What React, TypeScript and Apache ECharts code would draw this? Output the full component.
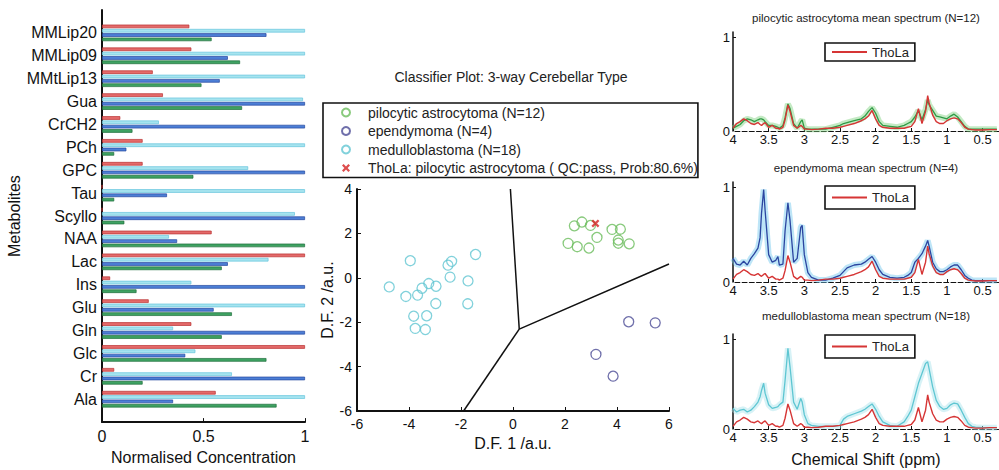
import React, { useEffect, useRef } from 'react';
import * as echarts from 'echarts';

const FONT = '"Liberation Sans", Arial, Helvetica, sans-serif';

// ---------- Bar chart (left) ----------
const metabolites = ['MMLip20', 'MMLip09', 'MMtLip13', 'Gua', 'CrCH2', 'PCh', 'GPC', 'Tau', 'Scyllo', 'NAA', 'Lac', 'Ins', 'Glu', 'Gln', 'Glc', 'Cr', 'Ala'];
const tholaConc = [0.43, 0.44, 0.25, 0.30, 0.09, 0.20, 0.20, 0, 0, 0.54, 1, 0.04, 0.23, 0.44, 1, 0.06, 0.56];
const medulloConc = [1, 1, 1, 0.99, 0.28, 1, 0.72, 1, 0.95, 0.33, 0.82, 0.44, 1, 0.35, 0.46, 0.64, 1];
const ependymomaConc = [0.81, 0.62, 0.58, 1, 1, 0.12, 1, 0.32, 1, 0.37, 0.62, 1, 0.55, 1, 0.41, 1, 0.35];
const pilocyticConc = [0.54, 0.68, 0.49, 0.69, 0.15, 0.06, 0.45, 0.06, 0.11, 1, 0.59, 0.17, 0.64, 0.59, 0.81, 0.20, 0.86];
const concTicks = [0, 0.5, 1];

// ---------- Classifier scatter (middle) ----------
const pilocyticPts = [
  [2.12, 1.55], [2.36, 2.34], [2.65, 2.51], [2.47, 1.40], [2.92, 1.34], [2.98, 2.36],
  [3.23, 1.82], [3.81, 2.18], [4.13, 2.19], [4.05, 1.70], [4.05, 1.56], [4.47, 1.53],
];
const ependymomaPts = [[4.45, -1.98], [5.47, -2.03], [3.19, -3.45], [3.85, -4.43]];
const medulloPts = [
  [-4.76, -0.41], [-3.95, 0.77], [-4.12, -0.84], [-3.67, -0.78], [-3.5, -0.47], [-3.24, -0.26],
  [-2.96, -0.38], [-2.97, -1.16], [-3.82, -1.73], [-3.32, -1.71], [-3.76, -2.28], [-3.37, -2.33],
  [-2.5, 0.57], [-2.36, 0.74], [-2.42, 0.03], [-1.73, -0.14], [-1.74, -1.17], [-1.44, 1.05],
];
const tholaPt = [[3.17, 2.45]];
const boundaryA = [[-0.1, 4], [0.24, -2.31], [6, 0.62]];
const boundaryB = [[0.24, -2.31], [-1.9, -6]];

// ---------- Spectra (right) ----------
const ppm = [4.0, 3.95, 3.9, 3.85, 3.8, 3.75, 3.7, 3.65, 3.62, 3.6, 3.57, 3.55, 3.5, 3.45, 3.4, 3.37, 3.35, 3.3, 3.27, 3.23, 3.2, 3.15, 3.1, 3.05, 3.03, 3.0, 2.95, 2.9, 2.8, 2.7, 2.6, 2.5, 2.45, 2.4, 2.3, 2.2, 2.15, 2.1, 2.05, 2.0, 1.95, 1.9, 1.8, 1.7, 1.6, 1.55, 1.5, 1.45, 1.4, 1.35, 1.3, 1.27, 1.25, 1.2, 1.15, 1.1, 1.05, 1.0, 0.95, 0.9, 0.85, 0.8, 0.75, 0.7, 0.65, 0.6, 0.5, 0.4, 0.3];
const tholaSpec = [0.03, 0.08, 0.10, 0.13, 0.11, 0.08, 0.07, 0.09, 0.07, 0.06, 0.08, 0.09, 0.04, 0.06, 0.03, 0.03, 0.02, 0.04, 0.12, 0.28, 0.21, 0.06, 0.03, 0.06, 0.05, 0.02, 0.02, 0.015, 0.02, 0.03, 0.03, 0.04, 0.05, 0.06, 0.08, 0.11, 0.13, 0.16, 0.22, 0.13, 0.06, 0.04, 0.03, 0.03, 0.03, 0.04, 0.05, 0.10, 0.24, 0.08, 0.21, 0.38, 0.30, 0.17, 0.10, 0.08, 0.08, 0.11, 0.13, 0.14, 0.13, 0.09, 0.04, 0.02, 0.015, 0.01, 0.01, 0.015, 0.015];
const pilocyticSpec = [0.03, 0.05, 0.07, 0.11, 0.13, 0.12, 0.10, 0.12, 0.13, 0.13, 0.12, 0.10, 0.06, 0.06, 0.05, 0.04, 0.03, 0.06, 0.14, 0.29, 0.24, 0.08, 0.03, 0.10, 0.12, 0.03, 0.02, 0.02, 0.02, 0.02, 0.04, 0.06, 0.08, 0.09, 0.11, 0.13, 0.16, 0.21, 0.25, 0.19, 0.10, 0.06, 0.05, 0.04, 0.06, 0.08, 0.10, 0.15, 0.22, 0.12, 0.23, 0.33, 0.28, 0.22, 0.16, 0.15, 0.14, 0.13, 0.16, 0.18, 0.15, 0.10, 0.05, 0.02, 0.02, 0.02, 0.02, 0.02, 0.02];
const ependymomaSpec = [0.25, 0.19, 0.18, 0.22, 0.18, 0.25, 0.30, 0.36, 0.47, 0.73, 0.98, 0.76, 0.29, 0.21, 0.23, 0.27, 0.18, 0.19, 0.54, 0.84, 0.65, 0.21, 0.25, 0.58, 0.60, 0.29, 0.10, 0.05, 0.02, 0.02, 0.04, 0.07, 0.11, 0.15, 0.18, 0.19, 0.21, 0.24, 0.27, 0.21, 0.13, 0.08, 0.05, 0.04, 0.05, 0.07, 0.10, 0.21, 0.25, 0.30, 0.38, 0.44, 0.38, 0.21, 0.14, 0.11, 0.11, 0.13, 0.16, 0.18, 0.18, 0.13, 0.07, 0.04, 0.02, 0.015, 0.015, 0.015, 0.015];
const medulloSpec = [0.23, 0.19, 0.21, 0.22, 0.19, 0.21, 0.25, 0.30, 0.36, 0.43, 0.51, 0.40, 0.27, 0.23, 0.24, 0.25, 0.27, 0.30, 0.54, 0.90, 0.69, 0.30, 0.22, 0.34, 0.30, 0.16, 0.06, 0.04, 0.03, 0.03, 0.03, 0.04, 0.11, 0.14, 0.17, 0.20, 0.22, 0.25, 0.28, 0.22, 0.14, 0.08, 0.04, 0.03, 0.08, 0.14, 0.21, 0.36, 0.51, 0.62, 0.73, 0.75, 0.67, 0.47, 0.32, 0.25, 0.22, 0.23, 0.27, 0.29, 0.28, 0.21, 0.13, 0.06, 0.03, 0.02, 0.015, 0.015, 0.015];
const ppmTicks = [4, 3.5, 3, 2.5, 2, 1.5, 1, 0.5];
const intensityTicks = [0, 1];

const RED = '#d63535';
const GREEN = '#2f9a45';
const BLUE = '#2b45a0';
const CYAN = '#5ec6d2';

const pad = (arr: any[]) => [null, ...arr, null];
const zip = (ys: number[]) => ppm.map((p, i) => [p, ys[i]]);

function barSeries(name: string, data: number[], fill: string, edge: string) {
  return {
    type: 'bar', name, xAxisIndex: 0, yAxisIndex: 0,
    data: pad(data), barWidth: 3.6, barGap: '20%',
    itemStyle: { color: fill, borderColor: edge, borderWidth: 0.7 },
  };
}

function spectrumPanel(idx: number, title: string, titleTop: number, top: number, height: number, legendTop: number, legendH: number,
  meanName: string, meanColor: string, bandColor: string, meanData: number[], showName: boolean) {
  const grid = { left: 733, right: 0, top, height };
  const xAxis: any = {
    type: 'value', gridIndex: idx, min: 0.27, max: 4, inverse: true,
    axisLine: { show: true, onZero: false, lineStyle: { color: '#111', width: 1.2, type: 'dashed' } },
    axisTick: { show: true, inside: true, length: 3, customValues: ppmTicks, lineStyle: { color: '#111' } },
    splitLine: { show: false },
    axisLabel: { customValues: ppmTicks, margin: 2, fontSize: 13, color: '#111', fontFamily: FONT },
  };
  if (showName) {
    Object.assign(xAxis, {
      name: 'Chemical Shift (ppm)', nameLocation: 'middle', nameGap: 22,
      nameTextStyle: { fontSize: 16, color: '#111', fontFamily: FONT },
    });
  }
  const yAxis = {
    type: 'value', gridIndex: idx, min: 0, max: 1.06,
    axisLine: { show: true, lineStyle: { color: '#111', width: 1.5 } },
    axisTick: { show: true, inside: true, length: 3, customValues: [1], lineStyle: { color: '#111' } },
    splitLine: { show: false },
    axisLabel: { customValues: intensityTicks, margin: 3, fontSize: 13, color: '#111', fontFamily: FONT },
  };
  const series = [
    {
      type: 'line', name: meanName + ' sd', xAxisIndex: idx, yAxisIndex: idx, data: zip(meanData),
      symbol: 'none', silent: true, lineStyle: { color: bandColor, width: 6, opacity: 0.45 },
    },
    {
      type: 'line', name: meanName, xAxisIndex: idx, yAxisIndex: idx, data: zip(meanData),
      symbol: 'none', lineStyle: { color: meanColor, width: 1.3 }, itemStyle: { color: meanColor },
    },
    {
      type: 'line', name: 'ThoLa', xAxisIndex: idx, yAxisIndex: idx, data: zip(tholaSpec),
      symbol: 'none', lineStyle: { color: RED, width: 1.4 }, itemStyle: { color: RED },
    },
  ];
  const titleOpt = {
    text: title, left: 866, top: titleTop, textAlign: 'center', padding: 0,
    textStyle: { fontSize: 11.5, fontWeight: 'normal', color: '#222', fontFamily: FONT },
  };
  const legend = {
    data: ['ThoLa'], left: 825, top: legendTop, icon: 'rect', itemWidth: 35, itemHeight: 2,
    borderColor: '#111', borderWidth: 1.6, backgroundColor: '#fff',
    padding: [(legendH - 15) / 2, 6, (legendH - 15) / 2, 7],
    textStyle: { fontSize: 13, lineHeight: 15, color: '#222', fontFamily: FONT },
    selectedMode: false,
  };
  return { grid, xAxis, yAxis, series, titleOpt, legend };
}

export default function App() {
  const ref = useRef<HTMLDivElement>(null);
  useEffect(() => {
    if (!ref.current) return;
    const chart = echarts.init(ref.current, undefined, { renderer: 'svg' });

    const p1 = spectrumPanel(2, 'pilocytic astrocytoma mean spectrum (N=12)', 12, 32, 99, 43, 18,
      'pilocytic astrocytoma mean', GREEN, '#7dd07d', pilocyticSpec, false);
    const p2 = spectrumPanel(3, 'ependymoma mean spectrum (N=4)', 162, 182, 100, 186, 23,
      'ependymoma mean', BLUE, '#6cc6ee', ependymomaSpec, false);
    const p3 = spectrumPanel(4, 'medulloblastoma mean spectrum (N=18)', 310, 334, 95, 335, 23,
      'medulloblastoma mean', CYAN, '#a6e2ea', medulloSpec, true);

    const axisText = { fontSize: 14, color: '#111', fontFamily: FONT };

    const option: any = {
      animation: false,
      backgroundColor: '#fff',
      textStyle: { fontFamily: FONT },
      title: [
        {
          text: 'Classifier Plot: 3-way Cerebellar Type', left: 511, top: 70, textAlign: 'center', padding: 0,
          textStyle: { fontSize: 14, fontWeight: 'normal', color: '#222', fontFamily: FONT },
        },
        p1.titleOpt, p2.titleOpt, p3.titleOpt,
      ],
      legend: [
        {
          data: ['pilocytic astrocytoma (N=12)', 'ependymoma (N=4)', 'medulloblastoma (N=18)', 'ThoLa: pilocytic astrocytoma ( QC:pass, Prob:80.6%)'],
          orient: 'vertical', left: 323, top: 103, itemWidth: 34, itemHeight: 8, itemGap: 1.5,
          borderColor: '#111', borderWidth: 1.6, backgroundColor: '#fff', padding: [1, 0, 1, 18],
          textStyle: { fontSize: 14, lineHeight: 17, color: '#222', fontFamily: FONT },
          selectedMode: false,
        },
        p1.legend, p2.legend, p3.legend,
      ],
      grid: [
        { left: 102, right: 694, top: 10, bottom: 43 },
        { left: 357, right: 330, top: 189, bottom: 59 },
        p1.grid, p2.grid, p3.grid,
      ],
      xAxis: [
        {
          type: 'value', gridIndex: 0, min: 0, max: 1, interval: 0.5,
          name: 'Normalised Concentration', nameLocation: 'middle', nameGap: 24,
          nameTextStyle: { fontSize: 16, color: '#111', fontFamily: FONT },
          axisLine: { show: true, lineStyle: { color: '#111', width: 2 } },
          axisTick: { show: true, inside: true, length: 4, lineStyle: { color: '#111' } },
          splitLine: { show: false },
          axisLabel: { margin: 6, fontSize: 16, color: '#111', fontFamily: FONT, customValues: concTicks },
        },
        {
          type: 'value', gridIndex: 1, min: -6, max: 6, interval: 2,
          name: 'D.F. 1 /a.u.', nameLocation: 'middle', nameGap: 24,
          nameTextStyle: { fontSize: 16, color: '#111', fontFamily: FONT },
          axisLine: { show: true, onZero: false, lineStyle: { color: '#111', width: 2 } },
          axisTick: { show: true, inside: true, length: 4, lineStyle: { color: '#111' } },
          splitLine: { show: false },
          axisLabel: { margin: 6, ...axisText },
        },
        p1.xAxis, p2.xAxis, p3.xAxis,
      ],
      yAxis: [
        {
          type: 'category', gridIndex: 0, data: ['', ...metabolites, ''], inverse: true, boundaryGap: false,
          name: 'Metabolites', nameLocation: 'middle', nameGap: 76,
          nameTextStyle: { fontSize: 16, color: '#111', fontFamily: FONT },
          axisLine: { show: true, lineStyle: { color: '#111', width: 2 } },
          axisTick: { show: false },
          axisLabel: { margin: 5, fontSize: 16, color: '#111', fontFamily: FONT },
          splitLine: { show: false },
        },
        {
          type: 'value', gridIndex: 1, min: -6, max: 4, interval: 2,
          name: 'D.F. 2 /a.u.', nameLocation: 'middle', nameGap: 21,
          nameTextStyle: { fontSize: 16, color: '#111', fontFamily: FONT },
          axisLine: { show: true, onZero: false, lineStyle: { color: '#111', width: 2 } },
          axisTick: { show: true, inside: true, length: 4, lineStyle: { color: '#111' } },
          splitLine: { show: false },
          axisLabel: { margin: 5, ...axisText },
        },
        p1.yAxis, p2.yAxis, p3.yAxis,
      ],
      series: [
        barSeries('ThoLa concentration', tholaConc, '#e46a6a', '#b83030'),
        barSeries('medulloblastoma concentration', medulloConc, '#a6e4ef', '#66c4dc'),
        barSeries('ependymoma concentration', ependymomaConc, '#4d7fd6', '#24469e'),
        barSeries('pilocytic astrocytoma concentration', pilocyticConc, '#3ea262', '#1f6e3c'),
        {
          type: 'line', name: 'boundary 1', xAxisIndex: 1, yAxisIndex: 1, data: boundaryA,
          symbol: 'none', silent: true, lineStyle: { color: '#111', width: 1.5 },
        },
        {
          type: 'line', name: 'boundary 2', xAxisIndex: 1, yAxisIndex: 1, data: boundaryB,
          symbol: 'none', silent: true, lineStyle: { color: '#111', width: 1.5 },
        },
        {
          type: 'scatter', name: 'medulloblastoma (N=18)', xAxisIndex: 1, yAxisIndex: 1, data: medulloPts,
          symbol: 'circle', symbolSize: 10,
          itemStyle: { color: 'rgba(0,0,0,0)', borderColor: '#62c6d2', borderWidth: 1.3 },
        },
        {
          type: 'scatter', name: 'ependymoma (N=4)', xAxisIndex: 1, yAxisIndex: 1, data: ependymomaPts,
          symbol: 'circle', symbolSize: 10,
          itemStyle: { color: 'rgba(0,0,0,0)', borderColor: '#4c4c96', borderWidth: 1.3 },
        },
        {
          type: 'scatter', name: 'pilocytic astrocytoma (N=12)', xAxisIndex: 1, yAxisIndex: 1, data: pilocyticPts,
          symbol: 'circle', symbolSize: 10,
          itemStyle: { color: 'rgba(0,0,0,0)', borderColor: '#6cbd5c', borderWidth: 1.3 },
        },
        {
          type: 'scatter', name: 'ThoLa: pilocytic astrocytoma ( QC:pass, Prob:80.6%)', xAxisIndex: 1, yAxisIndex: 1, data: tholaPt,
          symbol: 'path://M2,0 L5,3 L8,0 L10,2 L7,5 L10,8 L8,10 L5,7 L2,10 L0,8 L3,5 L0,2 Z', symbolSize: 8,
          itemStyle: { color: '#d42020' },
        },
        ...p1.series, ...p2.series, ...p3.series,
      ],
    };
    chart.setOption(option);
    return () => chart.dispose();
  }, []);
  return <div ref={ref} style={{ position: 'fixed', left: 0, top: 0, width: 999, height: 470 }} />;
}
